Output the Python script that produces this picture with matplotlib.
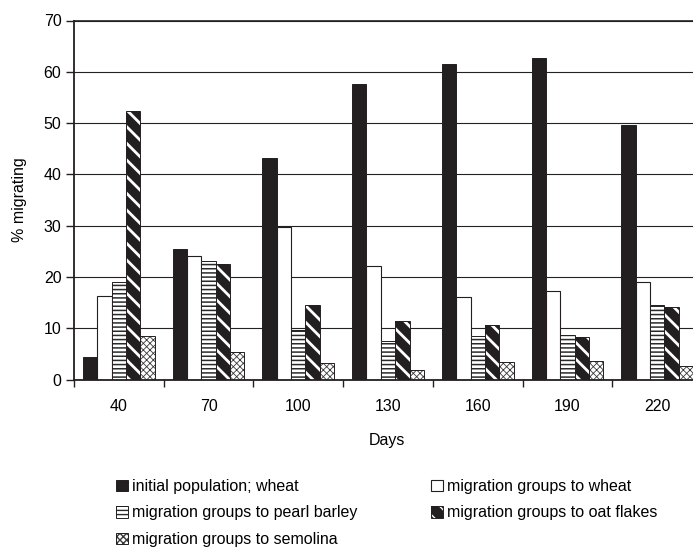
import numpy as np
import matplotlib
matplotlib.use("Agg")
import matplotlib.pyplot as plt

plt.rcParams['font.family'] = ['Liberation Sans', 'DejaVu Sans']

days = ['40', '70', '100', '130', '160', '190', '220']
initial_wheat = [4.3, 25.4, 43.1, 57.7, 61.6, 62.6, 49.7]
to_wheat = [16.3, 24.0, 29.8, 22.2, 16.1, 17.3, 19.1]
to_pearl_barley = [19.1, 23.2, 9.6, 7.5, 8.5, 8.7, 14.6]
to_oat_flakes = [52.4, 22.5, 14.6, 11.4, 10.7, 8.2, 14.1]
to_semolina = [8.4, 5.4, 3.3, 1.8, 3.5, 3.7, 2.7]

labels = ['initial population; wheat', 'migration groups to wheat',
          'migration groups to pearl barley', 'migration groups to oat flakes',
          'migration groups to semolina']

DARK = '#231f20'
FS = 11.5

W, H = 693, 547
fig = plt.figure(figsize=(W / 100, H / 100), dpi=100)
# plot area runs a little past the right edge of the picture (cropped original)
ax = fig.add_axes([74 / W, (H - 379.5) / H, 628 / W, 359 / H])

x = np.arange(len(days))
bw = 0.16
offs = [-2 * bw, -bw, 0, bw, 2 * bw]

def hatched_bar(vals, off, face, hatch, hcol, hlw):
    with plt.rc_context({'hatch.linewidth': hlw}):
        b = ax.bar(x + off, vals, bw, color=face, edgecolor=hcol, hatch=hatch,
                   linewidth=0, zorder=2)
    for p in b:
        if hasattr(p, 'set_hatch_linewidth'):
            p.set_hatch_linewidth(hlw)
    edge = ax.bar(x + off, vals, bw, fill=False, edgecolor=DARK, linewidth=0.7,
                  zorder=3)
    return (b[0], edge[0])

h0 = ax.bar(x + offs[0], initial_wheat, bw, color=DARK, edgecolor=DARK,
            linewidth=0.7, zorder=2)
h1 = ax.bar(x + offs[1], to_wheat, bw, color='white', edgecolor=DARK,
            linewidth=0.8, zorder=2)
h2 = hatched_bar(to_pearl_barley, offs[2], 'white', '----', '#2a2a2a', 1.1)
h3 = hatched_bar(to_oat_flakes, offs[3], DARK, '\\\\', 'white', 2.0)
h4 = hatched_bar(to_semolina, offs[4], 'white', 'xxxxx', '#3a3a3a', 0.6)

ax.set_xlim(-0.5, 6.5)
ax.set_ylim(0, 70)
ax.set_yticks(np.arange(0, 71, 10))
ax.yaxis.grid(True, color='#222222', linewidth=0.8)
ax.set_axisbelow(True)

ax.set_xticks(np.arange(-0.5, 7, 1))
ax.set_xticklabels([])
ax.set_xticks(x, minor=True)
ax.set_xticklabels(days, minor=True)
ax.tick_params(axis='x', which='major', direction='out', length=5,
               width=1, color=DARK)
ax.tick_params(axis='x', which='minor', length=0, pad=14, labelsize=FS)
ax.tick_params(axis='y', direction='out', length=6, width=1, color=DARK,
               pad=3, labelsize=FS)

for side in ['left', 'bottom']:
    ax.spines[side].set_color(DARK)
    ax.spines[side].set_linewidth(1.3)
ax.spines['right'].set_visible(False)
ax.spines['top'].set_color(DARK)
ax.spines['top'].set_linewidth(1.2)

ax.set_xlabel('Days', fontsize=FS, labelpad=8)
ax.set_ylabel('% migrating', fontsize=FS, labelpad=12)
ax.xaxis.set_label_coords((387 - 74) / 628, -(433 - 379.5) / 359)

handles = [h0[0], h2, h4, h1[0], h3]
leg_labels = [labels[0], labels[2], labels[4], labels[1], labels[3]]
fig.legend(handles, leg_labels, ncol=2, frameon=False, fontsize=FS,
           loc='upper left', bbox_to_anchor=(108 / W, 1 - 471 / H),
           handlelength=0.75, handleheight=0.75, handletextpad=0.25,
           labelspacing=0.72, columnspacing=4.6, borderpad=0)

fig.savefig('out.png', dpi=100)
